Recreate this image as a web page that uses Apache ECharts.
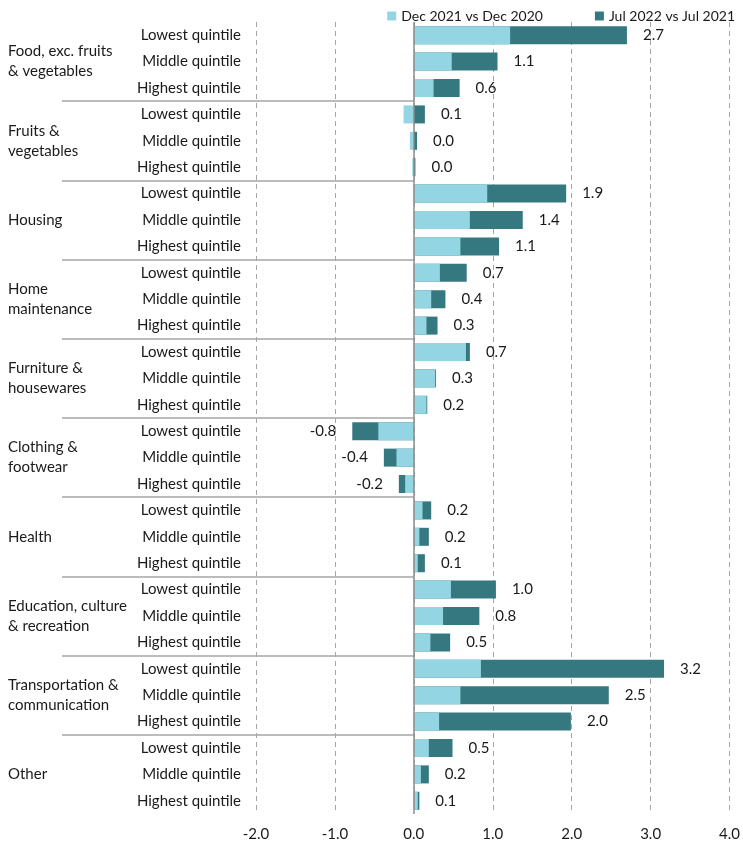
<!DOCTYPE html>
<html>
<head>
<meta charset="utf-8">
<script src="https://cdn.jsdelivr.net/npm/echarts@6/dist/echarts.min.js"></script>
<style>
html,body{margin:0;padding:0;background:#fff;}
#chart{width:743px;height:845px;}
</style>
</head>
<body>
<div id="chart"></div>
<script>
const groups = [
  'Food, exc. fruits\n& vegetables',
  'Fruits &\nvegetables',
  'Housing',
  'Home\nmaintenance',
  'Furniture &\nhousewares',
  'Clothing &\nfootwear',
  'Health',
  'Education, culture\n& recreation',
  'Transportation &\ncommunication',
  'Other'
];
const quintiles = ['Lowest quintile', 'Middle quintile', 'Highest quintile'];
const seriesNames = ['Dec 2021 vs Dec 2020', 'Jul 2022 vs Jul 2021'];
// Dec 2021 vs Dec 2020 (light)
const dec2021 = [
  1.22, 0.48, 0.25,
  -0.13, -0.05, -0.02,
  0.93, 0.71, 0.59,
  0.33, 0.22, 0.16,
  0.66, 0.27, 0.16,
  -0.45, -0.22, -0.11,
  0.11, 0.07, 0.05,
  0.47, 0.37, 0.21,
  0.85, 0.59, 0.32,
  0.19, 0.09, 0.05
];
// Jul 2022 vs Jul 2021 (dark)
const jul2022 = [
  2.70, 1.06, 0.58,
  0.14, 0.04, 0.02,
  1.93, 1.38, 1.08,
  0.67, 0.40, 0.30,
  0.71, 0.28, 0.17,
  -0.78, -0.38, -0.19,
  0.22, 0.19, 0.14,
  1.04, 0.83, 0.46,
  3.17, 2.47, 1.99,
  0.49, 0.19, 0.07
];
const xTicks = { min: -2, max: 4, interval: 1 };

const categories = [];
groups.forEach(() => quintiles.forEach(q => categories.push(q)));

const FONT = 'Lato';
const TXT = '#1a1a1a';

const chart = echarts.init(document.getElementById('chart'));
chart.setOption({
  animation: false,
  textStyle: { fontFamily: FONT },
  legend: {
    data: seriesNames,
    top: 4,
    right: 3,
    itemWidth: 9,
    itemHeight: 9,
    itemGap: 52,
    icon: 'rect',
    textStyle: { fontFamily: FONT, fontSize: 14, color: TXT }
  },
  grid: [
    { left: 256, right: 11, top: 22, bottom: 31 },
    { left: 62, right: 329, top: 22, bottom: 31 }
  ],
  xAxis: [
    {
      type: 'value', gridIndex: 0,
      min: xTicks.min, max: xTicks.max, interval: xTicks.interval,
      axisLine: { show: false }, axisTick: { show: false },
      axisLabel: { formatter: v => v.toFixed(1), fontSize: 15, color: TXT, margin: 13, fontFamily: FONT },
      splitLine: { show: true, lineStyle: { type: [5, 4], color: '#a6a6a6', width: 1 } }
    },
    { type: 'value', gridIndex: 1, min: 0, max: 1, show: false }
  ],
  yAxis: [
    {
      type: 'category', gridIndex: 0, data: categories, inverse: true,
      axisLine: { show: false, onZero: false }, axisTick: { show: false },
      axisLabel: { fontSize: 15, color: TXT, margin: 15, fontFamily: FONT, interval: 0 }
    },
    {
      type: 'category', gridIndex: 1, data: groups, inverse: true,
      axisLine: { show: false, onZero: false }, axisTick: { show: false },
      axisLabel: { fontSize: 15, color: TXT, margin: 54, align: 'left', lineHeight: 20, fontFamily: FONT, interval: 0 },
      splitLine: { show: true, showMinLine: false, showMaxLine: false, interval: 0, lineStyle: { color: '#a6a6a6', width: 1.5 } }
    }
  ],
  series: [
    {
      name: seriesNames[1], type: 'bar', xAxisIndex: 0, yAxisIndex: 0,
      barWidth: 18,
      itemStyle: { color: '#367880' },
      data: jul2022.map(v => ({ value: v, label: { position: v < 0 ? 'left' : 'right' } })),
      label: { show: true, distance: 16, fontSize: 15, color: TXT, fontFamily: FONT, formatter: p => p.value.toFixed(1) },
      z: 2
    },
    {
      name: seriesNames[0], type: 'bar', xAxisIndex: 0, yAxisIndex: 0,
      barWidth: 18, barGap: '-100%',
      itemStyle: { color: '#93d5e2' },
      data: dec2021,
      z: 3,
      markLine: {
        silent: true, symbol: 'none', animation: false,
        label: { show: false },
        lineStyle: { type: 'solid', color: '#8c8c8c', width: 1.5 },
        data: [{ xAxis: 0 }]
      }
    }
  ]
});
</script>
</body>
</html>
